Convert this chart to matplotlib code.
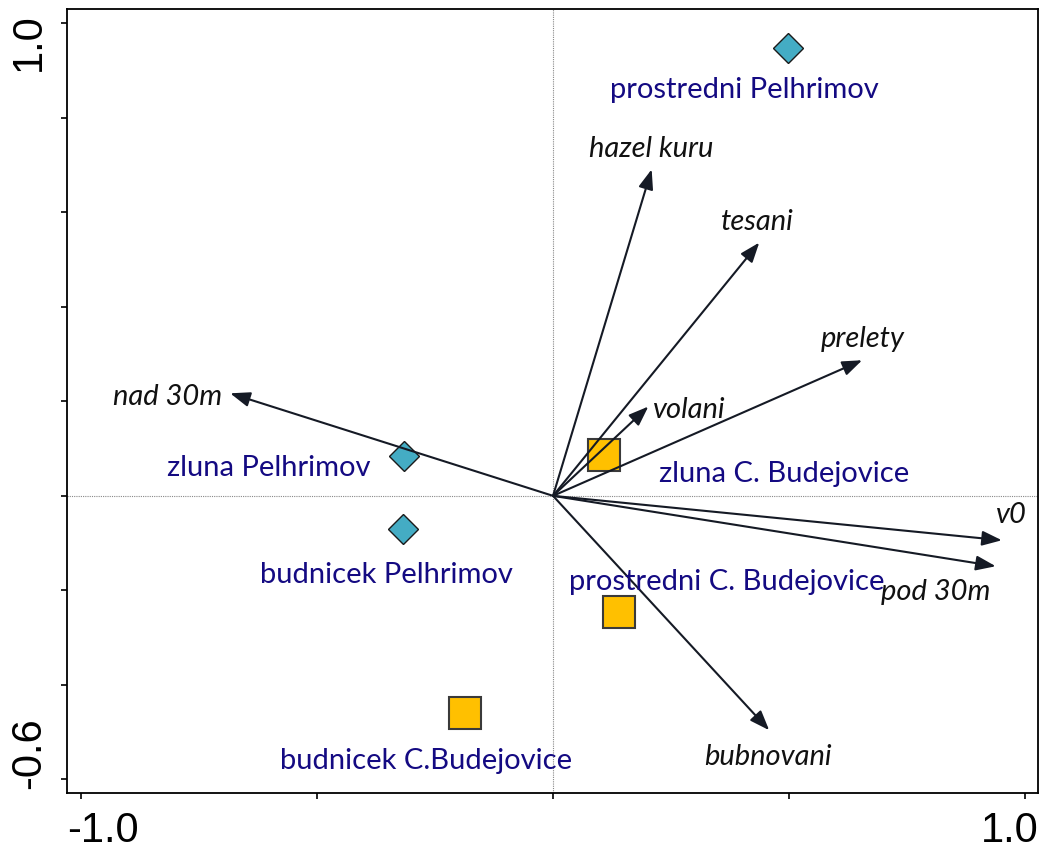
import matplotlib
matplotlib.use("Agg")
import matplotlib.pyplot as plt

# sample scores (ordination axes 1 and 2)
site_names = ["prostredni Pelhrimov", "zluna Pelhrimov", "budnicek Pelhrimov",
              "zluna C. Budejovice", "prostredni C. Budejovice", "budnicek C.Budejovice"]
site_x = [0.497, -0.316, -0.318, 0.107, 0.140, -0.187]
site_y = [0.948, 0.085, -0.071, 0.086, -0.246, -0.459]
site_group = ["P", "P", "P", "B", "B", "B"]

# variable arrows (tips)
var_names = ["hazel kuru", "tesani", "prelety", "volani", "nad 30m", "v0", "pod 30m", "bubnovani"]
var_x = [0.209, 0.437, 0.655, 0.202, -0.684, 0.951, 0.938, 0.458]
var_y = [0.691, 0.536, 0.287, 0.189, 0.217, -0.094, -0.149, -0.496]

# label placement (layout only)
site_lab_pos = [(0.405, 0.843), (-0.602, 0.042), (-0.354, -0.184),
                (0.490, 0.030), (0.369, -0.199), (-0.270, -0.579)]
var_lab_pos = [(0.209, 0.718), (0.434, 0.563), (0.657, 0.316), (0.288, 0.164),
               (-0.817, 0.192), (0.972, -0.057), (0.811, -0.221), (0.456, -0.570)]

BLUE = "#140A82"
ARROW = "#151a25"
LABFONT = ["Lato", "DejaVu Sans"]

fig = plt.figure(figsize=(10.46, 8.52), dpi=100)
ax = fig.add_axes([0.0641, 0.0692, 0.9287, 0.9202])

ax.set_xlim(-1.0297, 1.0286)
ax.set_ylim(-0.629, 1.0303)

ax.axhline(0, color="#888888", lw=0.8, ls=(0, (1, 1)), zorder=1)
ax.axvline(0, color="#888888", lw=0.8, ls=(0, (1, 1)), zorder=1)

for x, y, g in zip(site_x, site_y, site_group):
    if g == "P":
        ax.plot(x, y, marker="D", ms=15.5, mfc="#44ACC4", mec="#1a1a1a", mew=1.0, zorder=2)
    else:
        ax.plot(x, y, marker="s", ms=23, mfc="#FFC000", mec="#3a3a3a", mew=1.5, zorder=2)

for x, y in zip(var_x, var_y):
    ax.annotate("", xy=(x, y), xytext=(0, 0),
                arrowprops=dict(arrowstyle="-|>,head_length=0.4,head_width=0.15",
                                mutation_scale=30, lw=1.5, color=ARROW,
                                shrinkA=0, shrinkB=0), zorder=3)

for name, (lx, ly) in zip(site_names, site_lab_pos):
    ax.text(lx, ly, name, color=BLUE, fontsize=21, family=LABFONT,
            ha="center", va="baseline", zorder=4)

for name, (lx, ly) in zip(var_names, var_lab_pos):
    ax.text(lx, ly, name, color="#111111", fontsize=21, family=LABFONT, style="italic",
            ha="center", va="baseline", zorder=4)

# axes frame and ticks
for sp in ax.spines.values():
    sp.set_linewidth(1.3)
ax.set_xticks([-1.0, -0.5, 0.0, 0.5, 1.0])
ax.set_yticks([1.0, 0.8, 0.6, 0.4, 0.2, 0.0, -0.2, -0.4, -0.6])
ax.tick_params(direction="out", length=4, width=1.2, labelbottom=False, labelleft=False)

tick_font = dict(fontsize=30, family=["Liberation Sans", "DejaVu Sans"], color="black")
ax.annotate("-1.0", xy=(0, 0), xycoords="axes fraction", xytext=(0, -35.5),
            textcoords="offset points", ha="left", va="baseline", **tick_font)
ax.annotate("1.0", xy=(1, 0), xycoords="axes fraction", xytext=(0, -35.5),
            textcoords="offset points", ha="right", va="baseline", **tick_font)
ax.annotate("1.0", xy=(0, 1), xycoords="axes fraction", xytext=(-13, -3),
            textcoords="offset points", ha="right", va="top", rotation=90, **tick_font)
ax.annotate("-0.6", xy=(0, 0), xycoords="axes fraction", xytext=(-13, 3),
            textcoords="offset points", ha="right", va="bottom", rotation=90, **tick_font)

fig.savefig("out.png", dpi=100)
